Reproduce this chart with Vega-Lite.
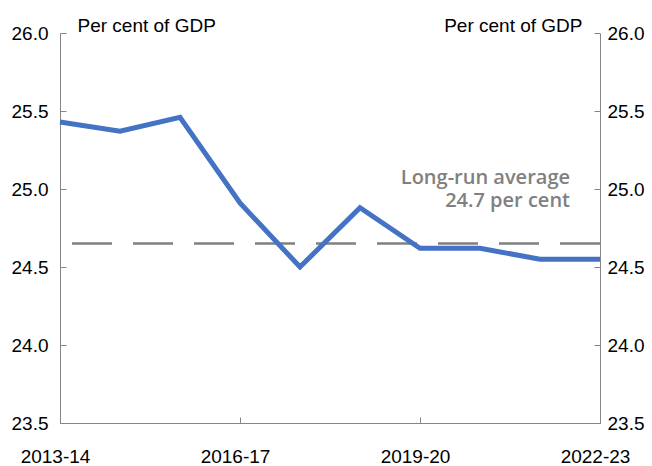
{
  "$schema": "https://vega.github.io/schema/vega-lite/v6.json",
  "width": 540,
  "height": 390,
  "autosize": {"type": "none"},
  "padding": {"left": 60, "top": 33, "right": 52, "bottom": 43},
  "background": "white",
  "config": {
    "view": {"stroke": null},
    "axis": {
      "grid": false,
      "domainColor": "#868686",
      "tickColor": "#868686",
      "labelFont": "Liberation Sans",
      "labelFontSize": 19,
      "labelColor": "#000000",
      "titleFont": "Liberation Sans",
      "titleFontSize": 19,
      "titleFontWeight": "normal",
      "titleColor": "#000000",
      "tickSize": -6
    }
  },
  "data": {
    "values": [
      {"year": "2013-14", "value": 25.43},
      {"year": "2014-15", "value": 25.37},
      {"year": "2015-16", "value": 25.46},
      {"year": "2016-17", "value": 24.91},
      {"year": "2017-18", "value": 24.50},
      {"year": "2018-19", "value": 24.88},
      {"year": "2019-20", "value": 24.62},
      {"year": "2020-21", "value": 24.62},
      {"year": "2021-22", "value": 24.55},
      {"year": "2022-23", "value": 24.55}
    ]
  },
  "layer": [
    {
      "data": {"values": [{"average": 24.65}]},
      "mark": {"type": "rule", "color": "#808080", "strokeWidth": 2.5, "strokeDash": [40, 21]},
      "encoding": {
        "y": {
          "field": "average",
          "type": "quantitative",
          "scale": {"domain": [23.5, 26], "nice": false, "zero": false},
          "axis": {
            "orient": "right",
            "values": [23.5, 24, 24.5, 25, 25.5, 26],
            "format": ".1f",
            "title": "Per cent of GDP",
            "titleAngle": 0,
            "titleAlign": "right",
            "titleBaseline": "alphabetic",
            "titleX": -18,
            "titleY": -2,
            "labelPadding": 13
          }
        }
      }
    },
    {
      "mark": {"type": "line", "color": "#4472C4", "strokeWidth": 5},
      "encoding": {
        "x": {
          "field": "year",
          "type": "ordinal",
          "scale": {"type": "point", "padding": 0},
          "axis": {
            "values": ["2013-14", "2016-17", "2019-20", "2022-23"],
            "labelAngle": 0,
            "labelPadding": 30,
            "labelOffset": -5,
            "labelFlush": false,
            "title": null
          }
        },
        "y": {
          "field": "value",
          "type": "quantitative",
          "scale": {"domain": [23.5, 26], "nice": false, "zero": false},
          "axis": {
            "orient": "left",
            "values": [23.5, 24, 24.5, 25, 25.5, 26],
            "format": ".1f",
            "title": "Per cent of GDP",
            "titleAngle": 0,
            "titleAlign": "left",
            "titleBaseline": "alphabetic",
            "titleX": 17,
            "titleY": -2,
            "labelPadding": 18
          }
        }
      }
    },
    {
      "data": {"values": [{"note": "Long-run average"}]},
      "mark": {
        "type": "text",
        "text": ["Long-run average", "24.7 per cent"],
        "align": "right",
        "baseline": "middle",
        "dx": -30,
        "dy": -11,
        "lineHeight": 23,
        "font": "Open Sans",
        "fontWeight": 600,
        "fontSize": 20,
        "color": "#808080"
      },
      "encoding": {
        "x": {"datum": "2022-23", "type": "ordinal"},
        "y": {"datum": 25.0, "type": "quantitative", "axis": null}
      }
    }
  ],
  "resolve": {"axis": {"y": "independent"}}
}
